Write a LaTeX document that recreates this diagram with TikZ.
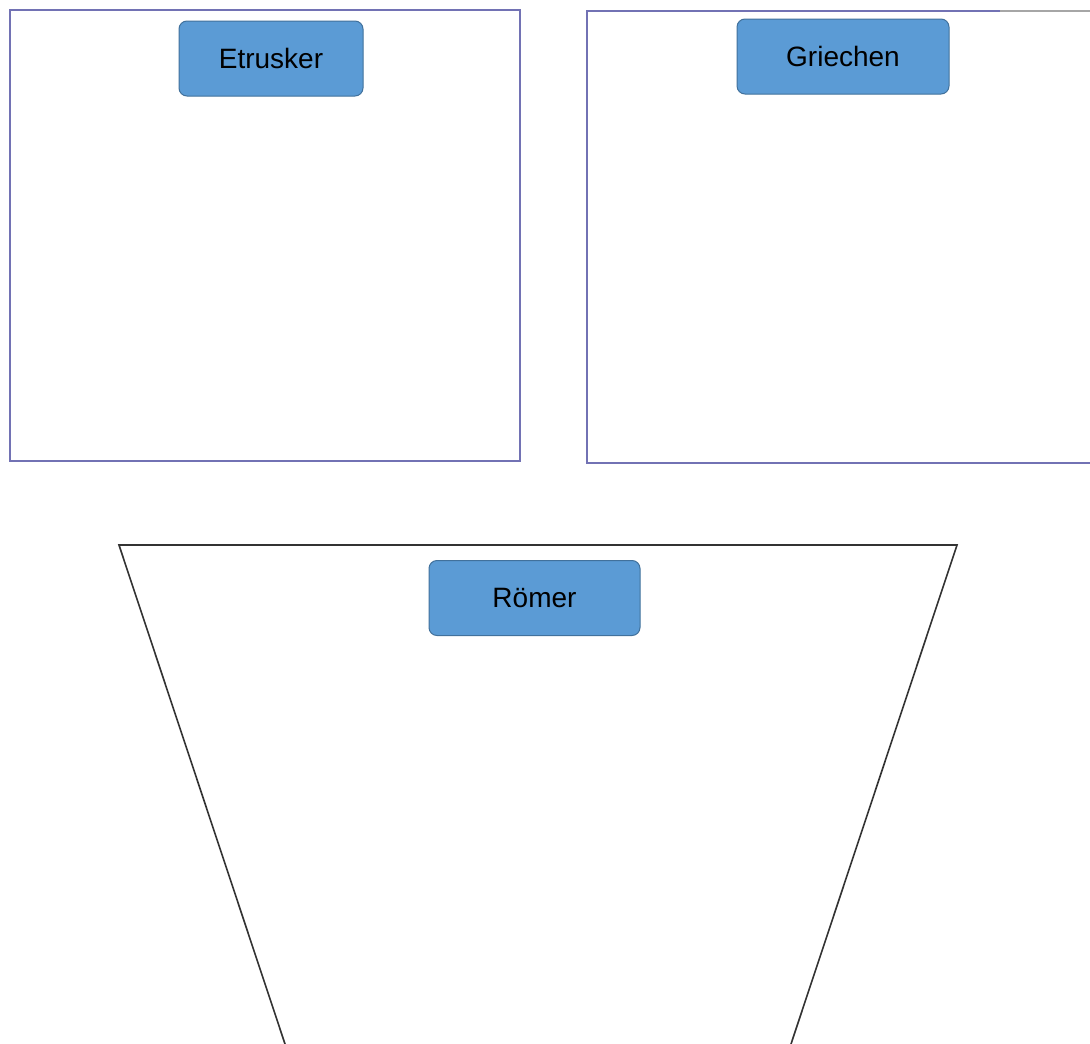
\documentclass[tikz,border=0pt]{standalone}
\usepackage{fontspec}
\setmainfont{Liberation Sans}
\usetikzlibrary{positioning}
\definecolor{tagblue}{HTML}{5B9BD5}
\definecolor{tagedge}{HTML}{41719C}
\definecolor{framec}{HTML}{7272B4}
\begin{document}
\begin{tikzpicture}[
  x=1pt,y=-1pt,
  tag/.style={rectangle,draw=tagedge,fill=tagblue,rounded corners=8pt,line width=1pt,
              minimum height=75pt,align=center,font=\fontsize{28}{31}\selectfont,text=black},
  frame/.style={draw=framec,line width=1.6pt},
  wall/.style={draw=black!80,line width=1.6pt}
]
  \useasboundingbox[fill=white] (0,0) rectangle (1090,1044);
  % Etrusker
  \draw[frame] (10,10) rectangle (520,461);
  \node[tag,minimum width=184pt] (etr) at (271,58.5) {Etrusker};
  % Griechen
  \draw[frame] (587,11) rectangle (1110,463);
  \draw[draw=gray!70,line width=1.6pt] (1000,11) -- (1110,11);
  \node[tag,minimum width=212pt] (gri) at (843,56.5) {Griechen};
  % Roemer
  \draw[wall] (285,1044) -- (119,545) -- (957,545) -- (791,1044);
  \node[tag,minimum width=211pt] (roe) at (534.5,598) {Römer};
\end{tikzpicture}
\end{document}
